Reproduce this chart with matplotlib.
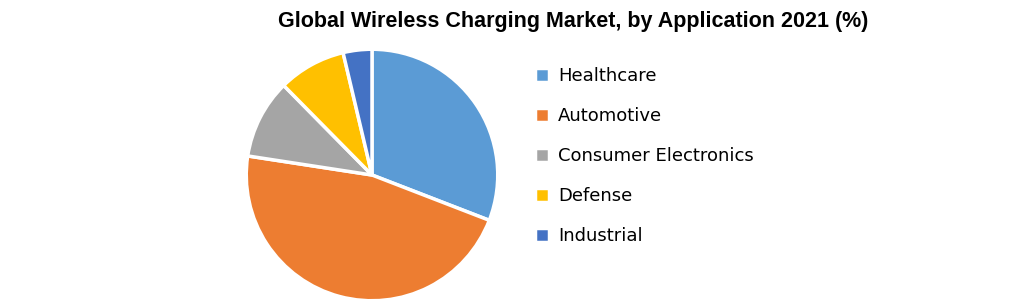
import matplotlib.pyplot as plt

labels = ['Healthcare', 'Automotive', 'Consumer Electronics', 'Defense', 'Industrial']
shares = [30.9, 46.6, 10.2, 8.7, 3.7]
colors = ['#5b9bd5', '#ed7d31', '#a5a5a5', '#ffc000', '#4472c4']

fig = plt.figure(figsize=(10.2, 3.03), dpi=100)
ax = fig.add_axes([245/1020, 1/303, 254/1020, 254/303])
wedges, _ = ax.pie(shares, colors=colors, startangle=90, counterclock=False,
                   wedgeprops=dict(edgecolor='white', linewidth=2.5))
ax.set_xlim(-1.01, 1.01)
ax.set_ylim(-1.01, 1.01)
ax.set_aspect('equal')

fig.text(573/1020, 1 - 21/303, 'Global Wireless Charging Market, by Application 2021 (%)',
         ha='center', va='center', fontsize=15.5, fontweight='bold',
         family=['Liberation Sans Narrow', 'Liberation Sans', 'DejaVu Sans'])

fig.legend(wedges, labels, loc='upper left', bbox_to_anchor=(528/1020, 1 - 60/303),
           frameon=False, fontsize=13, handlelength=0.75, handleheight=0.75,
           handletextpad=0.5, labelspacing=1.22, borderaxespad=0)

fig.savefig('out.png', dpi=100)
